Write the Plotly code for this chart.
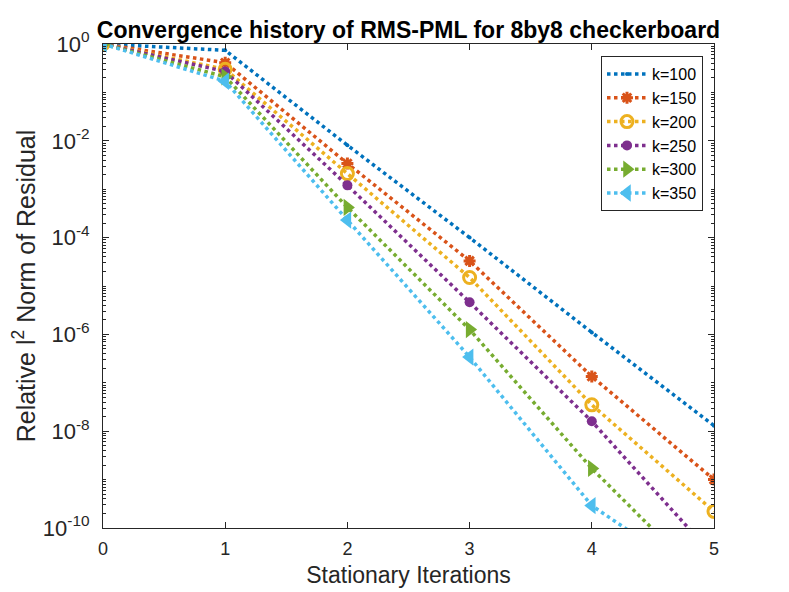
import plotly.graph_objects as go

iterations = [0, 1, 2, 3, 4, 5]
k100 = [1.0, 0.74, 8.1e-3, 1.0e-4, 1.1e-6, 1.3e-8]
k150 = [1.0, 0.41, 3.4e-3, 3.3e-5, 1.35e-7, 1.0e-9]
k200 = [1.0, 0.30, 2.1e-3, 1.5e-5, 3.5e-8, 2.2e-10]
k250 = [1.0, 0.27, 1.2e-3, 4.6e-6, 1.6e-8, 2.6e-11]
k300 = [1.0, 0.21, 4.2e-4, 1.26e-6, 1.7e-9, 5.2e-12]
k350 = [1.0, 0.17, 2.3e-4, 3.4e-7, 2.9e-10, 5.7e-12]
series_names = ["k=100", "k=150", "k=200", "k=250", "k=300", "k=350"]
colors = ["#0072BD", "#D95319", "#EDB120", "#7E2F8E", "#77AC30", "#4DBEEE"]
y_tick_exps = [0, -2, -4, -6, -8, -10]

markers = [
    dict(symbol="circle", size=4),
    dict(symbol="asterisk-open", size=10, line=dict(width=3)),
    dict(symbol="circle-open", size=12, line=dict(width=3)),
    dict(symbol="circle", size=10),
    dict(symbol="triangle-right", size=15),
    dict(symbol="triangle-left", size=15),
]

fig = go.Figure()
for name, ys, c, m in zip(series_names, [k100, k150, k200, k250, k300, k350], colors, markers):
    mk = dict(m)
    mk["color"] = c
    if "line" in mk:
        mk["line"] = dict(mk["line"], color=c)
    fig.add_trace(go.Scatter(
        x=iterations, y=ys, name=name, mode="lines+markers",
        line=dict(color=c, width=3.5, dash="dot"),
        marker=mk,
    ))

minor_vals = []
for d in range(-10, 0):
    for m in range(2, 10):
        minor_vals.append(m * 10.0 ** d)
for e in [-1, -3, -5, -7, -9]:
    minor_vals.append(10.0 ** e)

font = "Liberation Sans, Arial, sans-serif"
fig.update_layout(
    width=789, height=592,
    paper_bgcolor="white", plot_bgcolor="white",
    margin=dict(l=95, r=83, t=36, b=72, autoexpand=False),
    font=dict(family=font, color="#262626", size=18),
    title=dict(
        text="<b>Convergence history of RMS-PML for 8by8 checkerboard</b>",
        x=0.5, xref="paper", xanchor="center", y=1 - 22 / 592, yanchor="middle",
        font=dict(size=23, color="black", family=font),
        automargin=False,
    ),
    showlegend=True,
    legend=dict(
        x=0.982, y=0.975, xanchor="right", yanchor="top",
        bgcolor="white", bordercolor="#262626", borderwidth=1,
        font=dict(size=16, color="black"),
        tracegroupgap=0, itemwidth=40,
    ),
)
fig.update_xaxes(
    range=[0, 5], tickvals=iterations, ticks="inside", ticklen=6,
    showgrid=False, zeroline=False, showline=True, linecolor="#262626",
    linewidth=1, mirror="ticks", tickcolor="#262626", automargin=False,
    ticklabelstandoff=4, tickfont=dict(size=18),
    title=dict(text="Stationary Iterations", font=dict(size=23), standoff=9),
)
fig.update_yaxes(
    type="log", range=[-10, 0],
    tickvals=[10.0 ** e for e in y_tick_exps],
    ticktext=["10<sup>%d</sup>" % e for e in y_tick_exps],
    ticks="inside", ticklen=6, tickcolor="#262626", automargin=False,
    ticklabelstandoff=8, tickfont=dict(size=22),
    minor=dict(tickmode="array", tickvals=minor_vals, ticks="inside", ticklen=3,
               tickcolor="#262626", showgrid=False),
    showgrid=False, zeroline=False, showline=True, linecolor="#262626",
    linewidth=1, mirror="ticks",
    title=dict(text="Relative l<sup>2</sup> Norm of Residual", font=dict(size=25), standoff=8),
)
fig.write_html("out.html")
